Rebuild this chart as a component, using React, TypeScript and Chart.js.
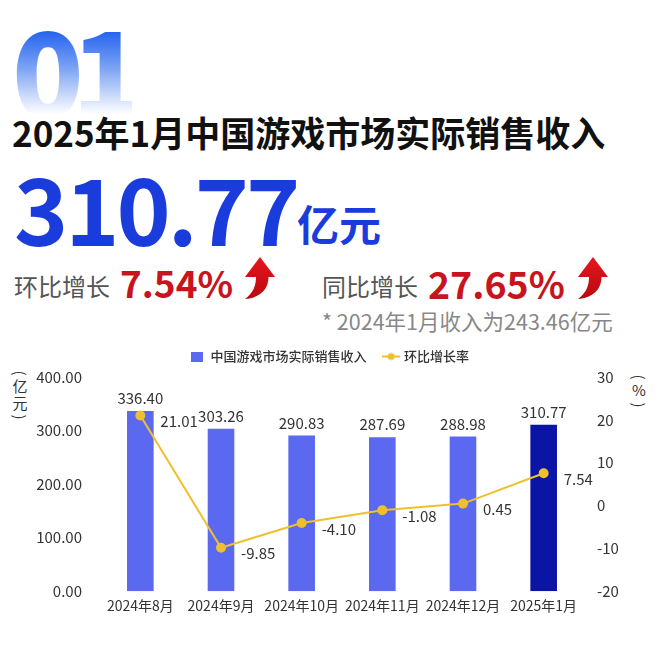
import React, { useEffect, useRef } from "react";
import { Chart, registerables } from "chart.js";

Chart.register(...registerables);

const FONT = "'Noto Sans CJK SC', 'Noto Sans', sans-serif";

const months = ["2024年8月", "2024年9月", "2024年10月", "2024年11月", "2024年12月", "2025年1月"];
const revenue = [336.4, 303.26, 290.83, 287.69, 288.98, 310.77];
const momGrowth = [21.01, -9.85, -4.1, -1.08, 0.45, 7.54];
const leftTicks = [0, 100, 200, 300, 400];
const rightTicks = [-20, -10, 0, 10, 20, 30];
const barColors = ["#5a69f0", "#5a69f0", "#5a69f0", "#5a69f0", "#5a69f0", "#0a14a5"];
const seriesNames = ["中国游戏市场实际销售收入", "环比增长率"];
const leftUnit = "亿元";
const rightUnit = "%";

const LINE_COLOR = "#f0c02c";

function Arrow({ left, top }: { left: number; top: number }) {
  return (
    <svg
      width={32}
      height={46}
      viewBox="0 0 32 46"
      style={{ position: "absolute", left, top }}
    >
      <defs>
        <linearGradient id={`ag${left}`} x1="0" y1="0" x2="0" y2="1">
          <stop offset="0" stopColor="#e8141c" />
          <stop offset="1" stopColor="#b80a10" />
        </linearGradient>
      </defs>
      <path
        d="M16 2 L31 22 L24.5 22 C24.5 35 15 43 1 44 C9 38 12 31 12 22 L1 22 Z"
        fill={`url(#ag${left})`}
      />
    </svg>
  );
}

function VerticalUnit({ left, top, text }: { left: number; top: number; text: string }) {
  const paren = (ch: string, h: number) => (
    <span
      style={{
        display: "block",
        height: h,
        lineHeight: `${h}px`,
        textAlign: "center",
        transform: "rotate(90deg)",
      }}
    >
      {ch}
    </span>
  );
  return (
    <div
      style={{
        position: "absolute",
        left,
        top,
        width: 16,
        fontSize: 15,
        color: "#333",
        fontFamily: FONT,
      }}
    >
      {paren("(", 10)}
      {Array.from(text).map((c, i) => (
        <span
          key={i}
          style={{ display: "block", height: 16.5, lineHeight: "16.5px", textAlign: "center" }}
        >
          {c}
        </span>
      ))}
      {paren(")", 12)}
    </div>
  );
}

const valueLabels = {
  id: "valueLabels",
  afterDatasetsDraw(chart: any) {
    const ctx = chart.ctx;
    ctx.save();
    ctx.font = `15px ${FONT}`;
    ctx.fillStyle = "#333";
    const barMeta = chart.getDatasetMeta(0);
    ctx.textAlign = "center";
    ctx.textBaseline = "bottom";
    barMeta.data.forEach((el: any, i: number) => {
      ctx.fillText(revenue[i].toFixed(2), el.x, el.y - 5);
    });
    const lineMeta = chart.getDatasetMeta(1);
    ctx.textAlign = "left";
    ctx.textBaseline = "middle";
    lineMeta.data.forEach((el: any, i: number) => {
      ctx.fillText(momGrowth[i].toFixed(2), el.x + 20, el.y + 6);
    });
    ctx.restore();
  },
};

const legendGap = {
  id: "legendGap",
  beforeInit(chart: any) {
    const legend = chart.legend;
    if (!legend) return;
    const orig = legend.fit;
    legend.fit = function () {
      orig.call(this);
      this.height += 4;
    };
  },
};

export default function App() {
  const ref = useRef<HTMLCanvasElement | null>(null);

  useEffect(() => {
    if (!ref.current) return;
    const barIcon = document.createElement("canvas");
    barIcon.width = 12;
    barIcon.height = 10;
    const bctx = barIcon.getContext("2d")!;
    bctx.fillStyle = barColors[0];
    bctx.fillRect(0, 0, 12, 10);

    const lineIcon = document.createElement("canvas");
    lineIcon.width = 18;
    lineIcon.height = 10;
    const lctx = lineIcon.getContext("2d")!;
    lctx.strokeStyle = LINE_COLOR;
    lctx.lineWidth = 2;
    lctx.beginPath();
    lctx.moveTo(0, 5);
    lctx.lineTo(18, 5);
    lctx.stroke();
    lctx.fillStyle = LINE_COLOR;
    lctx.beginPath();
    lctx.arc(9, 5, 3.5, 0, Math.PI * 2);
    lctx.fill();

    const chart = new Chart(ref.current, {
      type: "bar",
      data: {
        labels: months,
        datasets: [
          {
            type: "bar",
            label: seriesNames[0],
            data: revenue,
            backgroundColor: barColors,
            yAxisID: "y",
            order: 2,
            barPercentage: 0.66,
            categoryPercentage: 0.5,
          },
          {
            type: "line",
            label: seriesNames[1],
            data: momGrowth,
            borderColor: LINE_COLOR,
            backgroundColor: LINE_COLOR,
            borderWidth: 2,
            pointRadius: 4,
            pointBackgroundColor: LINE_COLOR,
            pointBorderColor: LINE_COLOR,
            yAxisID: "y1",
            order: 1,
            tension: 0,
          },
        ] as any,
      },
      options: {
        animation: false,
        responsive: false,
        maintainAspectRatio: false,
        layout: { padding: { top: -8, left: 0, right: 0, bottom: 20 } },
        plugins: {
          tooltip: { enabled: false },
          legend: {
            position: "top",
            labels: {
              usePointStyle: true,
              color: "#333",
              font: { family: FONT, size: 13, weight: 500 as any },
              padding: 18,
              generateLabels: (c: any) => {
                const items = Chart.defaults.plugins.legend.labels.generateLabels(c);
                items.sort((a: any, b: any) => a.datasetIndex - b.datasetIndex);
                items.forEach((it: any) => {
                  it.pointStyle = it.datasetIndex === 0 ? barIcon : lineIcon;
                });
                return items;
              },
            },
          },
        },
        scales: {
          x: {
            grid: { display: false, drawTicks: false },
            border: { display: false },
            ticks: {
              color: "#333",
              font: { family: FONT, size: 14 },
              padding: 6,
              maxRotation: 0,
            },
          },
          y: {
            position: "left",
            min: 0,
            max: 400,
            afterBuildTicks: (s: any) => {
              s.ticks = leftTicks.map((v) => ({ value: v }));
            },
            afterFit: (s: any) => {
              s.width = 100;
            },
            grid: { display: false, drawTicks: false },
            border: { display: false },
            ticks: {
              color: "#333",
              font: { family: FONT, size: 15 },
              padding: 18,
              callback: (v: any) => Number(v).toFixed(2),
            },
          },
          y1: {
            position: "right",
            min: -20,
            max: 30,
            afterBuildTicks: (s: any) => {
              s.ticks = rightTicks.map((v) => ({ value: v }));
            },
            afterFit: (s: any) => {
              s.width = 76;
            },
            grid: { display: false, drawTicks: false },
            border: { display: false },
            ticks: {
              color: "#333",
              font: { family: FONT, size: 15 },
              padding: 13,
              callback: (v: any) => String(v),
            },
          },
        },
      },
      plugins: [valueLabels, legendGap],
    });
    return () => chart.destroy();
  }, []);

  const abs = (s: React.CSSProperties): React.CSSProperties => ({
    position: "absolute",
    whiteSpace: "nowrap",
    lineHeight: 1,
    fontFamily: FONT,
    ...s,
  });

  return (
    <div
      style={{
        position: "absolute",
        left: 0,
        top: 0,
        width: 660,
        height: 651,
        background: "#fff",
        overflow: "hidden",
        fontFamily: FONT,
      }}
    >
      <div
        style={abs({
          left: 12,
          top: 8,
          fontSize: 118,
          fontWeight: 800,
          letterSpacing: -12,
          background:
            "linear-gradient(to bottom, #2060f0 18%, #7fa6f4 52%, rgba(255,255,255,0) 90%)",
          WebkitBackgroundClip: "text",
          backgroundClip: "text",
          color: "transparent",
        })}
      >
        01
      </div>
      <div style={abs({ left: 12, top: 114, fontSize: 35, fontWeight: 700, color: "#111" })}>
        2025年1月中国游戏市场实际销售收入
      </div>
      <div
        style={abs({
          left: 14,
          top: 160,
          fontSize: 92,
          fontWeight: 700,
          letterSpacing: -3,
          color: "#1a3cdc",
        })}
      >
        310.77
      </div>
      <div style={abs({ left: 297, top: 202, fontSize: 42, fontWeight: 700, color: "#1a3cdc" })}>
        亿元
      </div>
      <div style={abs({ left: 14, top: 274, fontSize: 24, color: "#555" })}>环比增长</div>
      <div style={abs({ left: 120, top: 264, fontSize: 37, fontWeight: 700, color: "#c8141c" })}>
        7.54%
      </div>
      <Arrow left={244} top={255} />
      <div style={abs({ left: 322, top: 274, fontSize: 24, color: "#555" })}>同比增长</div>
      <div style={abs({ left: 428, top: 264, fontSize: 37.5, fontWeight: 700, color: "#c8141c" })}>
        27.65%
      </div>
      <Arrow left={577} top={255} />
      <div style={abs({ left: 322, top: 310, fontSize: 21.5, color: "#888" })}>
        * 2024年1月收入为243.46亿元
      </div>
      <VerticalUnit left={12} top={368} text={leftUnit} />
      <VerticalUnit left={631} top={372} text={rightUnit} />
      <canvas
        ref={ref}
        width={660}
        height={300}
        style={{ position: "absolute", left: 0, top: 340, width: 660, height: 300 }}
      />
    </div>
  );
}
